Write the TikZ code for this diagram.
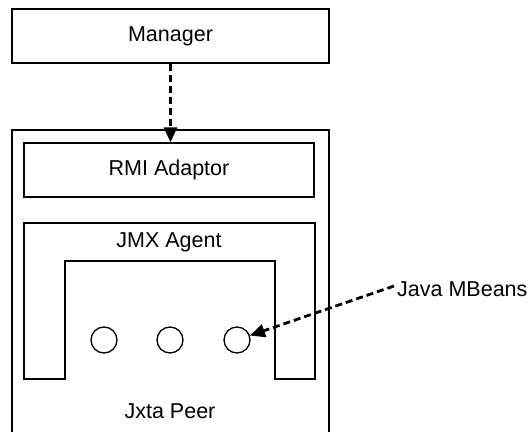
\documentclass[tikz,border=0pt]{standalone}
\usepackage{fontspec}
\setmainfont{Liberation Sans}
\usetikzlibrary{arrows.meta,positioning}

\begin{document}
\begin{tikzpicture}[x=1pt,y=-1pt,
    box/.style={draw, line width=1.3pt, rectangle, inner sep=0pt},
    bean/.style={draw, line width=1.3pt, circle, minimum size=26pt, inner sep=0pt},
    call/.style={line width=2.8pt, dash pattern=on 7pt off 4pt,
      -{Triangle[length=15pt,width=13pt]}}]

  \fontsize{21.5}{26}\selectfont

  \useasboundingbox (0,0) rectangle (530,431);

  \node[box, minimum width=317pt, minimum height=54pt] (manager) at (170.5, 36) {Manager};

  %% Jxta peer, cut by the lower edge
  \draw[line width=1.3pt] (12,440) -- (12,130) -- (329,130) -- (329,440);
  \node (peer) at (170, 411) {Jxta Peer};

  \node[box, minimum width=290pt, minimum height=54pt] (rmi) at (169, 170) {RMI Adaptor};

  %% JMX agent
  \draw[line width=1.3pt] (24,223) -- (315,223) -- (315,379) -- (275,379) -- (275,261)
    -- (65,261) -- (65,379) -- (24,379) -- cycle;
  \node (agent) at (169, 242) {JMX Agent};

  \node[bean] (bean1) at (104, 340) {};
  \node[bean] (bean2) at (170, 340) {};
  \node[bean] (bean3) at (237, 340) {};

  \node[anchor=west, inner sep=0pt] (mbeans) at (397, 289) {Java MBeans};

  \draw[call] (manager.south) -- (manager.south |- rmi.north); %% manager->rmi
  \draw[call] ([xshift=-3pt,yshift=3pt]mbeans.west) -- (bean3); %% label->bean

\end{tikzpicture}
\end{document}
